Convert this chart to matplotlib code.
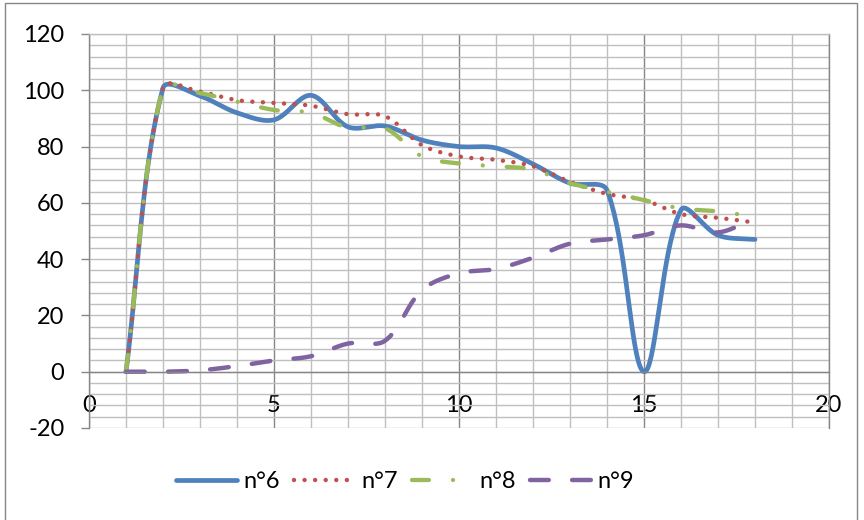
import numpy as np
import matplotlib.pyplot as plt
from matplotlib.patches import Rectangle
from matplotlib.ticker import MultipleLocator

plt.rcParams['font.family'] = ['Lato', 'DejaVu Sans']
plt.rcParams['lines.scale_dashes'] = False
plt.rcParams['axes.unicode_minus'] = False

x = list(range(1, 19))
n6 = [0, 100.8, 98, 92, 89.5, 98.2, 87, 87.3, 82.3, 80, 79.5, 73.8, 67, 64.5, 0, 57.5, 48.5, 47]
n7 = [0, 101, 99.5, 96.5, 95.5, 94.5, 91.5, 90.8, 80.5, 76.5, 75.3, 73, 67.5, 63.2, 61, 56, 54.7, 53]
n8 = [0, 101, 99, 96, 93, 92, 86.7, 86.5, 76.5, 74, 73, 71.8, 67, 64, 61, 58, 57, 55]
n9 = [0, 0, 0.5, 2, 4, 5.5, 10, 11, 29, 35, 36.5, 40.5, 45.5, 47, 48.5, 52, 49.5, 54.5]
names = ['n°6', 'n°7', 'n°8', 'n°9']

colors = ['#4F81BD', '#C0504D', '#9BBB59', '#8064A2']


def smooth(ax, xs, ys, steps=40):
    # excel-like bezier smoothing, done in pixel space
    pts = ax.transData.transform(np.column_stack([xs, ys]))
    n = len(pts)
    out = [pts[0]]
    for i in range(n - 1):
        p0 = pts[max(i - 1, 0)]
        p1 = pts[i]
        p2 = pts[i + 1]
        p3 = pts[min(i + 2, n - 1)]
        d01 = np.hypot(*(p1 - p0))
        d12 = np.hypot(*(p2 - p1))
        d23 = np.hypot(*(p3 - p2))
        t1 = p2 - p0
        t2 = p3 - p1
        f1 = d12 / (d01 + d12) / 3 if d01 + d12 > 0 else 0
        f2 = d12 / (d12 + d23) / 3 if d12 + d23 > 0 else 0
        c1 = p1 + t1 * f1
        c2 = p2 - t2 * f2
        t = np.linspace(0, 1, steps)[1:, None]
        seg = ((1 - t) ** 3) * p1 + 3 * ((1 - t) ** 2) * t * c1 + 3 * (1 - t) * t ** 2 * c2 + t ** 3 * p2
        out.extend(seg)
    out = ax.transData.inverted().transform(np.array(out))
    return out[:, 0], out[:, 1]


fig = plt.figure(figsize=(8.64, 5.2), dpi=100)
ax = fig.add_axes([89 / 864, 1 - 428 / 520, 740 / 864, 394 / 520])
ax.set_xlim(0, 20)
ax.set_ylim(-20, 120)

ax.xaxis.set_major_locator(MultipleLocator(5))
ax.xaxis.set_minor_locator(MultipleLocator(1))
ax.yaxis.set_major_locator(MultipleLocator(20))
ax.yaxis.set_minor_locator(MultipleLocator(4))
ax.xaxis.grid(True, which='major', color='#868686', lw=1.0)
ax.xaxis.grid(True, which='minor', color='#BFBFBF', lw=1.0)
ax.yaxis.grid(True, which='both', color='#BFBFBF', lw=1.0)
ax.set_axisbelow(True)

ax.spines['bottom'].set_position(('data', 0))
ax.spines['bottom'].set_color('#868686')
ax.spines['left'].set_color('#868686')
ax.spines['top'].set_color('#BFBFBF')
ax.spines['right'].set_color('#868686')
for s in ax.spines.values():
    s.set_linewidth(1.0)

ax.tick_params(axis='y', which='major', direction='out', length=5.8, width=1.0,
               color='#868686', pad=12, labelsize=17)
ax.tick_params(axis='y', which='minor', length=0)
ax.tick_params(axis='x', which='both', length=0, pad=17, labelsize=17)

styles = [
    dict(linestyle='-', lw=3.4),
    dict(linestyle=(0, (0.01, 7.6)), lw=3.2, dash_capstyle='round'),
    dict(linestyle=(0, (12.2, 17.3, 0.01, 17.3)), lw=3.1, dash_capstyle='round'),
    dict(linestyle=(0, (13.5, 16.8)), lw=3.2, dash_capstyle='round'),
]

for ys, name, c, st in zip([n6, n7, n8, n9], names, colors, styles):
    sx, sy = smooth(ax, x, ys)
    ax.plot(sx, sy, color=c, label=name, solid_capstyle='round', **st)

fig.legend(loc='center', bbox_to_anchor=(405 / 864, 1 - 482 / 520), ncol=4,
           frameon=False, fontsize=17, handlelength=2.6, handletextpad=0.25,
           columnspacing=0.6)

fig.patches.append(Rectangle((5 / 864, -0.01), 852 / 864, 1.01 - 3 / 520,
                             transform=fig.transFigure, fill=False,
                             edgecolor='#868686', lw=1.0))

fig.savefig('out.png', dpi=100)
